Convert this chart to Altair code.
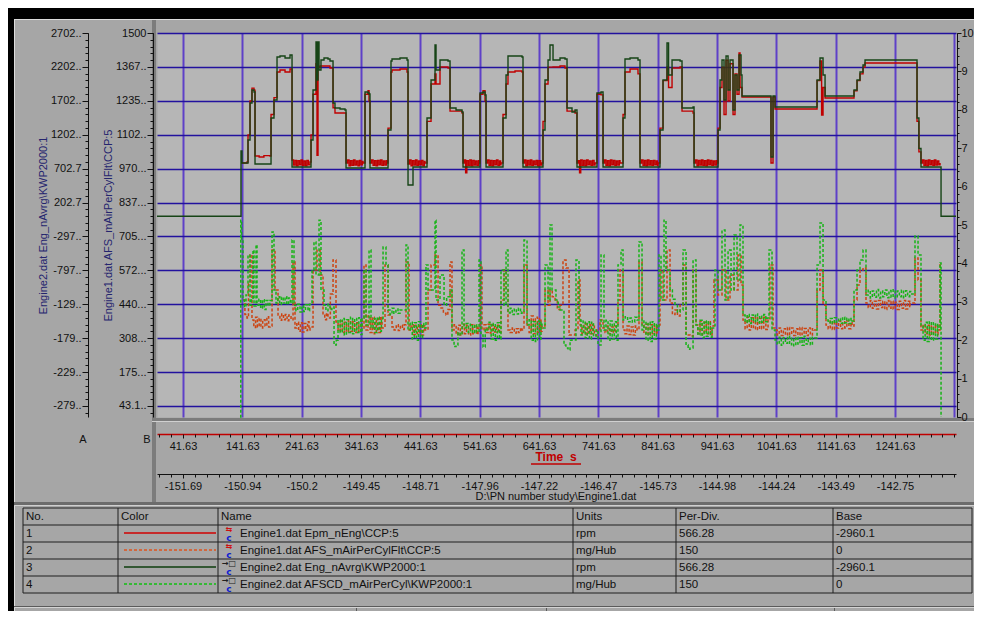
import json
import altair as alt
import pandas as pd

# ---------------- values ----------------
# Engine1.dat Epm_nEng\CCP:5  (rpm)  -- (time s, rpm)
e1_rpm = [
    (141.1, 785), (149.5, 800), (151.2, 1200), (154.6, 1700), (157.9, 1890), (161.3, 1860),
    (163.0, 889), (170, 875), (178, 895), (188.3, 889), (190.0, 1500), (195.0, 1750),
    (200.1, 2128), (205.1, 2157), (213.6, 2128), (222.0, 2172),
    (225.4, 830), (228.0, 755), (230.5, 825), (233.0, 745), (235.5, 820), (238.0, 760), (240.5, 830),
    (243.0, 750), (245.5, 815), (248.0, 745), (250.5, 825), (253.0, 760), (255.7, 800),
    (257.4, 1200), (260.8, 1800), (265.8, 2250), (267.5, 900), (269.2, 2201), (272.6, 2216),
    (286.0, 2216), (289.4, 2187), (294.5, 1600), (297.8, 1523), (314.7, 1523),
    (316.4, 785), (319.0, 830), (321.5, 745), (324.0, 820), (326.5, 750), (329.0, 830), (331.5, 755),
    (334.0, 815), (336.5, 745), (339.0, 825), (341.5, 760), (344.0, 810), (345.1, 785),
    (348.4, 1800), (353.5, 1850), (355.2, 1700),
    (356.8, 785), (359.5, 830), (362.0, 750), (364.5, 820), (367.0, 745), (369.5, 825), (372.0, 760),
    (374.5, 830), (377.0, 750), (379.5, 815), (382.0, 755), (384.5, 820), (385.5, 785),
    (387.2, 1300), (392.2, 2128), (393.9, 2157), (407.4, 2172), (419.2, 2128),
    (420.9, 771), (423.5, 830), (426.0, 745), (428.5, 820), (431.0, 755), (433.5, 830), (436.0, 750),
    (438.5, 815), (441.0, 760), (443.5, 825), (446.0, 745), (448.5, 810),
    (449.5, 785), (452.9, 1400), (459.7, 1950), (466.4, 2100), (468.1, 1950), (474.8, 2201),
    (488.3, 2187), (491.7, 1550), (511.9, 1523),
    (513.6, 785), (516.0, 830), (518.0, 640), (520.0, 820), (522.5, 750), (525.0, 830), (527.5, 745),
    (530.0, 825), (532.5, 755), (535.0, 815), (537.5, 750), (540.0, 820),
    (540.6, 785), (542.3, 1800), (547.3, 1850), (550.7, 1700),
    (552.4, 785), (555.0, 830), (557.5, 750), (560.0, 825), (562.5, 745), (565.0, 820), (567.5, 760),
    (570.0, 830), (572.5, 750), (575.0, 815), (577.0, 760),
    (577.6, 785), (581.0, 1500), (586.1, 1950), (589.4, 2128), (601.2, 2143), (613.0, 2128),
    (614.7, 785), (617.0, 830), (619.5, 745), (622.0, 825), (624.5, 755), (627.0, 830), (629.5, 750),
    (632.0, 815), (634.5, 760), (637.0, 825), (639.5, 745), (642.0, 820), (644.5, 755),
    (646.7, 785), (648.4, 1400), (651.8, 1950), (656.9, 2200), (665.3, 2201), (677.1, 2216),
    (685.5, 2187), (688.9, 1550), (702.4, 1523),
    (705.7, 785), (708.0, 820), (710.0, 640), (712.0, 830), (714.5, 750), (717.0, 825), (719.5, 745),
    (722.0, 830), (724.5, 760), (727.0, 815), (729.5, 750), (732.0, 825), (734.5, 755),
    (736.1, 785), (739.4, 1800), (746.2, 1790),
    (749.6, 785), (752.0, 830), (754.5, 750), (757.0, 820), (759.5, 745), (762.0, 830), (764.5, 760),
    (767.0, 825), (769.5, 750), (772.0, 815), (774.5, 755), (777.0, 820),
    (778.2, 785), (783.3, 1500), (786.6, 2128), (795.1, 2172), (808.5, 2100),
    (811.9, 785), (814.5, 830), (817.0, 750), (819.5, 825), (822.0, 745), (824.5, 830), (827.0, 755),
    (829.5, 820), (832.0, 750), (834.5, 825), (837.0, 760), (839.5, 815), (841.5, 750),
    (842.3, 785), (845.6, 1300), (850.7, 2000), (857.4, 2200), (860.0, 1900), (865.9, 2187),
    (879.4, 2201), (882.7, 1550), (901.3, 1523),
    (903.0, 785), (905.5, 830), (908.0, 745), (910.5, 825), (913.0, 755), (915.5, 830), (918.0, 750),
    (920.5, 820), (923.0, 745), (925.5, 830), (928.0, 760), (930.5, 825), (933.0, 750), (935.5, 815),
    (938.0, 755), (940.5, 820),
    (941.7, 785), (943.4, 1300), (946.8, 1900), (950.1, 2200), (953.5, 1500), (956.9, 2300),
    (960.3, 1700), (963.6, 2250), (968.7, 1500), (972.0, 2100), (975.4, 1800), (978.8, 2408),
    (980.5, 1900), (983.8, 1759), (1031.0, 1759), (1032.7, 785), (1036.1, 1759), (1039.5, 1582),
    (1106.9, 1582), (1110.3, 2000), (1115.3, 2290), (1118.0, 1494), (1120.4, 1900), (1123.8, 1745),
    (1169.3, 1745), (1172.6, 1850), (1177.7, 2000), (1182.7, 2100), (1187.8, 2200), (1191.2, 2260),
    (1275.4, 2260), (1278.8, 1400), (1282.0, 950),
    (1285.5, 785), (1288.0, 830), (1290.5, 750), (1293.0, 825), (1295.5, 745), (1298.0, 830),
    (1300.5, 760), (1303.0, 820), (1305.5, 750), (1308.0, 830), (1310.5, 755), (1313.0, 815),
    (1315.5, 760), (1317.6, 785),
]

# Engine2.dat Eng_nAvrg\KWP2000:1  (rpm)
e2_rpm = [
    (-2.2, 0), (137.7, 0), (139.4, 963), (141.1, 785), (149.5, 785), (151.2, 1125),
    (154.6, 1670), (157.9, 1862), (161.3, 1833), (163.0, 771), (188.3, 771), (190.0, 1449),
    (195.0, 1715), (200.1, 2349), (205.1, 2364), (213.6, 2334), (222.0, 2378), (225.4, 727),
    (255.7, 727), (257.4, 1125), (260.8, 1862), (265.8, 2570), (267.5, 2010), (269.2, 2570),
    (270.9, 2157), (274.2, 2305), (279.3, 2334), (286.0, 2319), (289.4, 2290), (294.5, 1670),
    (297.8, 1597), (306.3, 1582), (314.7, 1567), (316.4, 712), (345.1, 712), (348.4, 1833),
    (353.5, 1818), (355.2, 1803), (356.8, 712), (385.5, 712), (387.2, 1272), (392.2, 2290),
    (393.9, 2319), (407.4, 2334), (419.2, 2305), (420.9, 461), (429.3, 727), (449.5, 727),
    (452.9, 1449), (459.7, 2010), (466.4, 2526), (468.1, 2157), (474.8, 2305), (488.3, 2290),
    (491.7, 1597), (501.8, 1567), (511.9, 1538), (513.6, 727), (540.6, 727), (542.3, 1818),
    (547.3, 1833), (550.7, 1788), (552.4, 727), (577.6, 727), (581.0, 1449), (586.1, 2083),
    (589.4, 2364), (601.2, 2364), (613.0, 2349), (614.7, 727), (646.7, 727), (648.4, 1272),
    (651.8, 2010), (656.9, 2305), (660.2, 2526), (665.3, 2305), (677.1, 2334), (685.5, 2319),
    (688.9, 1597), (697.3, 1538), (702.4, 1567), (705.7, 727), (736.1, 727), (739.4, 1818),
    (746.2, 1833), (749.6, 727), (778.2, 727), (783.3, 1449), (786.6, 2319), (795.1, 2334),
    (808.5, 2305), (811.9, 727), (842.3, 727), (845.6, 1272), (850.7, 2010), (857.4, 2555),
    (860.0, 2083), (865.9, 2305), (879.4, 2290), (882.7, 1597), (901.3, 1611), (903.0, 727),
    (941.7, 727), (943.4, 1272), (946.8, 2010), (950.1, 2305), (953.5, 1715), (956.9, 2364),
    (960.3, 1862), (963.6, 2305), (968.7, 1567), (972.0, 2083), (975.4, 1862), (978.8, 2378),
    (982.2, 2083), (983.8, 1774), (1031.0, 1774), (1032.7, 874), (1036.1, 1774), (1039.5, 1611),
    (1106.9, 1611), (1110.3, 2010), (1115.3, 2334), (1120.4, 2083), (1123.8, 1774), (1169.3, 1774),
    (1172.6, 1862), (1177.7, 2010), (1182.7, 2128), (1187.8, 2231), (1191.2, 2305), (1241.7, 2305),
    (1275.4, 2305), (1278.8, 1449), (1282.0, 1000), (1285.5, 727), (1317.6, 727), (1319.3, 0),
    (1344.5, 0),
]

# Engine1.dat AFS_mAirPerCylFlt\CCP:5  (mg/Hub)
e1_air = [
    (142.8, 457), (146.0, 400), (149.5, 387), (152.0, 520), (154.6, 633), (157.9, 379),
    (161.0, 350), (164.0, 390), (167.0, 352), (170.0, 385), (173.0, 348), (176.0, 380),
    (179.9, 355), (183.0, 392), (186.0, 352), (188.3, 355), (191.7, 652), (196.7, 496),
    (201.8, 398), (205.0, 378), (208.0, 402), (211.0, 380), (214.0, 400), (217.0, 376),
    (220.0, 398), (223.7, 380), (227.1, 605), (230.4, 348), (233.5, 370), (236.5, 335),
    (239.5, 368), (242.5, 332), (245.5, 365), (248.5, 338), (251.5, 372), (254.0, 340),
    (255.7, 352), (260.8, 574), (267.5, 652), (272.6, 555), (277.6, 398), (280.5, 380),
    (283.5, 405), (286.0, 387), (290.0, 480), (294.5, 613), (299.5, 371), (303.0, 335),
    (306.5, 375), (310.0, 330), (313.5, 370), (317.0, 332), (320.5, 378), (324.0, 335),
    (327.5, 372), (331.0, 330), (334.5, 368), (338.0, 332), (341.5, 375), (343.4, 348),
    (346.7, 594), (350.1, 340), (353.5, 395), (357.0, 330), (360.5, 390), (364.0, 325),
    (367.5, 385), (371.0, 330), (374.5, 392), (377.1, 348), (382.1, 594), (387.2, 398),
    (393.9, 352), (397.5, 340), (401.0, 360), (404.5, 338), (408.0, 358), (411.5, 342),
    (414.5, 360), (417.5, 605), (422.6, 340), (426.0, 360), (429.5, 322), (433.0, 358),
    (436.5, 325), (440.0, 360), (443.5, 320), (447.0, 355), (449.5, 340), (454.6, 496),
    (459.7, 594), (466.4, 633), (471.5, 437), (476.5, 426), (480.5, 405), (484.9, 398),
    (488.0, 420), (491.7, 605), (495.0, 340), (498.5, 360), (502.0, 322), (505.5, 358),
    (509.0, 320), (512.5, 362), (516.0, 325), (519.5, 358), (523.0, 320), (526.5, 360),
    (530.0, 325), (533.5, 358), (537.0, 322), (538.9, 348), (542.3, 594), (545.6, 340),
    (549.0, 360), (552.5, 330), (556.0, 362), (559.5, 328), (563.0, 360), (566.5, 332),
    (570.0, 358), (573.5, 330), (577.6, 457), (582.7, 574), (586.1, 496), (589.4, 340),
    (593.0, 330), (596.5, 348), (600.0, 328), (603.5, 345), (607.0, 330), (610.5, 348),
    (613.0, 340), (616.4, 594), (621.5, 359), (625.0, 330), (628.5, 395), (632.0, 325),
    (635.5, 390), (639.0, 330), (642.5, 385), (645.0, 335), (646.7, 355), (651.8, 496),
    (656.9, 437), (660.2, 496), (664.0, 470), (668.7, 457), (672.5, 420), (677.1, 437),
    (682.1, 613), (687.2, 582), (692.3, 320), (697.3, 320), (702.4, 340), (707.4, 535),
    (710.8, 359), (714.0, 325), (717.5, 365), (721.0, 322), (724.5, 360), (728.0, 325),
    (731.5, 362), (735.0, 320), (739.4, 340), (744.5, 379), (749.6, 348), (753.0, 330),
    (756.5, 355), (760.0, 325), (763.5, 352), (767.0, 330), (770.5, 355), (774.8, 457),
    (778.2, 574), (783.3, 340), (786.5, 325), (790.0, 355), (793.5, 322), (797.0, 352),
    (800.5, 320), (804.0, 355), (806.9, 340), (810.2, 605), (815.3, 359), (818.5, 325),
    (822.0, 362), (825.5, 320), (829.0, 360), (832.5, 325), (836.0, 358), (839.5, 322),
    (840.6, 359), (845.6, 574), (850.7, 457), (857.4, 652), (862.5, 445), (866.5, 400),
    (870.9, 418), (875.0, 395), (879.4, 437), (884.4, 594), (889.5, 320), (896.2, 316),
    (901.3, 574), (906.3, 359), (909.5, 325), (913.0, 375), (916.5, 322), (920.0, 370),
    (923.5, 325), (927.0, 372), (930.5, 320), (933.3, 355), (936.6, 535), (943.4, 477),
    (950.1, 574), (956.9, 457), (963.6, 555), (970.4, 496), (977.1, 633), (982.2, 516),
    (985.5, 379), (989.0, 345), (992.5, 390), (996.0, 340), (999.5, 388), (1003.0, 345),
    (1006.5, 392), (1010.0, 342), (1013.5, 385), (1017.0, 345), (1020.5, 390), (1024.0, 342),
    (1027.7, 379), (1031.0, 594), (1036.1, 348), (1039.5, 340), (1043.0, 320), (1046.5, 348),
    (1050.0, 318), (1053.5, 345), (1057.0, 320), (1060.5, 350), (1064.0, 322), (1067.5, 348),
    (1071.0, 318), (1074.5, 345), (1078.0, 320), (1081.5, 350), (1085.0, 322), (1088.5, 346),
    (1092.0, 318), (1095.5, 348), (1099.0, 320), (1102.5, 345), (1105.2, 340), (1110.3, 496),
    (1115.3, 574), (1120.4, 437), (1125.4, 359), (1129.0, 345), (1132.5, 375), (1136.0, 342),
    (1139.5, 372), (1143.0, 348), (1146.5, 375), (1150.0, 345), (1153.5, 372), (1157.0, 348),
    (1160.5, 375), (1164.0, 345), (1167.5, 370), (1169.3, 355), (1172.6, 457), (1177.7, 516),
    (1182.7, 574), (1187.8, 582), (1192.8, 445), (1196.5, 428), (1200.0, 455), (1203.5, 425),
    (1207.0, 452), (1210.5, 422), (1214.0, 455), (1217.5, 428), (1221.0, 452), (1224.5, 420),
    (1228.0, 455), (1231.5, 425), (1235.0, 452), (1238.5, 422), (1242.0, 448), (1245.5, 420),
    (1249.0, 452), (1252.5, 425), (1256.0, 455), (1259.5, 422), (1263.0, 452), (1266.5, 428),
    (1267.0, 445), (1275.4, 621), (1280.5, 535), (1285.5, 340), (1289.0, 360), (1292.5, 325),
    (1296.0, 358), (1299.5, 320), (1303.0, 355), (1306.5, 325), (1310.0, 360), (1313.5, 322),
    (1314.2, 340), (1317.6, 602),
]

# Engine2.dat AFSCD_mAirPerCyl\KWP2000:1  (mg/Hub)
e2_air = [
    (137.7, 0), (139.0, 769), (140.3, 691), (142.8, 457), (145.0, 430), (147.8, 477),
    (151.2, 633), (154.6, 437), (157.0, 460), (159.6, 652), (161.3, 434), (164.7, 672),
    (166.4, 437), (169.5, 460), (172.5, 425), (175.5, 458), (178.5, 420), (181.5, 455),
    (184.9, 434), (188.0, 455), (191.7, 723), (195.0, 496), (198.4, 445), (201.5, 470),
    (204.5, 440), (207.5, 468), (210.5, 445), (213.6, 470), (216.5, 440), (219.5, 465),
    (222.5, 445), (225.4, 691), (228.7, 437), (232.0, 415), (235.0, 440), (238.9, 410),
    (242.0, 435), (245.0, 412), (248.0, 438), (252.3, 415), (255.0, 440), (259.1, 574),
    (262.4, 684), (265.8, 555), (270.9, 769), (274.2, 496), (279.3, 437), (282.5, 415),
    (286.0, 440), (289.4, 420), (292.5, 430), (296.2, 281), (300.0, 300), (302.9, 379),
    (306.5, 330), (310.0, 385), (313.5, 320), (317.0, 380), (320.5, 330), (324.0, 390),
    (327.5, 325), (331.0, 385), (334.5, 330), (338.0, 388), (341.5, 322), (343.4, 387),
    (346.7, 574), (350.1, 359), (355.2, 652), (358.5, 348), (362.0, 385), (365.5, 330),
    (369.0, 390), (372.5, 335), (376.0, 385), (378.8, 664), (383.8, 594), (387.2, 418),
    (390.5, 400), (393.9, 425), (397.0, 405), (400.5, 422), (404.0, 405), (407.4, 418),
    (417.5, 672), (420.9, 340), (424.5, 370), (428.0, 305), (431.5, 368), (435.0, 300),
    (438.5, 372), (442.0, 310), (445.5, 365), (447.5, 348), (451.2, 594), (454.6, 496),
    (466.4, 769), (468.1, 457), (474.8, 555), (481.6, 437), (486.0, 470), (491.7, 496),
    (495.0, 301), (498.5, 275), (501.8, 281), (505.0, 330), (508.5, 320), (511.9, 652),
    (515.3, 348), (519.0, 365), (522.5, 330), (526.0, 362), (529.5, 328), (533.0, 360),
    (536.5, 332), (540.6, 613), (543.9, 320), (547.3, 273), (551.0, 345), (554.0, 340),
    (557.5, 370), (561.0, 305), (564.5, 365), (568.0, 300), (571.5, 368), (575.0, 305),
    (577.6, 574), (582.7, 437), (586.1, 652), (589.4, 406), (593.0, 425), (596.5, 400),
    (600.0, 422), (603.5, 402), (607.0, 425), (610.5, 405), (613.0, 410), (616.4, 691),
    (621.5, 359), (625.0, 380), (628.5, 300), (632.0, 372), (635.5, 295), (639.0, 375),
    (642.5, 305), (645.0, 370), (646.7, 348), (651.8, 594), (656.9, 457), (660.2, 750),
    (663.6, 496), (670.3, 457), (674.0, 430), (677.1, 418), (683.8, 281), (687.0, 270),
    (690.6, 262), (694.0, 300), (697.3, 301), (704.0, 613), (709.1, 379), (712.5, 320),
    (716.0, 375), (719.5, 310), (723.0, 372), (726.5, 305), (730.0, 370), (733.5, 315),
    (737.8, 340), (741.1, 281), (746.2, 633), (751.2, 340), (754.5, 378), (758.0, 300),
    (761.5, 375), (765.0, 305), (768.5, 372), (772.0, 300), (774.8, 594), (779.9, 652),
    (783.3, 379), (787.0, 392), (791.0, 372), (795.1, 387), (799.0, 370), (803.0, 390),
    (806.9, 379), (810.2, 684), (815.3, 340), (818.5, 375), (822.0, 300), (825.5, 370),
    (829.0, 295), (832.5, 372), (836.0, 305), (839.5, 365), (840.6, 340), (843.9, 633),
    (847.3, 457), (852.4, 769), (855.7, 574), (862.5, 496), (866.5, 460), (870.9, 437),
    (875.0, 410), (879.4, 418), (884.4, 652), (889.5, 281), (893.0, 265), (896.2, 270),
    (901.3, 613), (906.3, 359), (909.5, 320), (913.0, 378), (916.5, 310), (920.0, 375),
    (923.5, 315), (927.0, 372), (930.5, 312), (933.3, 348), (938.3, 574), (943.4, 496),
    (950.1, 730), (955.2, 457), (960.3, 652), (965.3, 496), (970.4, 711), (975.4, 535),
    (980.5, 750), (985.5, 398), (989.0, 370), (992.5, 400), (996.0, 365), (999.5, 398),
    (1003.0, 372), (1006.5, 402), (1010.0, 368), (1013.5, 395), (1017.0, 370), (1020.5, 400),
    (1024.0, 372), (1026.5, 387), (1029.4, 652), (1034.4, 340), (1039.5, 301), (1043.0, 285),
    (1046.5, 312), (1050.0, 280), (1053.5, 310), (1057.0, 288), (1060.5, 315), (1064.0, 282),
    (1067.5, 308), (1071.0, 278), (1074.5, 312), (1078.0, 285), (1081.5, 310), (1085.0, 280),
    (1088.5, 315), (1092.0, 285), (1095.5, 308), (1099.0, 282), (1102.5, 312), (1105.2, 309),
    (1110.3, 594), (1115.3, 758), (1120.4, 457), (1125.4, 379), (1129.0, 368), (1132.5, 385),
    (1136.0, 365), (1139.5, 388), (1143.0, 370), (1146.5, 385), (1150.0, 366), (1153.5, 390),
    (1157.0, 368), (1160.5, 386), (1164.0, 365), (1167.5, 385), (1169.3, 375), (1172.6, 496),
    (1177.7, 574), (1182.7, 613), (1187.8, 652), (1192.8, 477), (1196.5, 495), (1200.0, 465),
    (1203.5, 492), (1207.0, 468), (1210.5, 498), (1214.0, 465), (1217.5, 492), (1221.0, 470),
    (1224.5, 496), (1228.0, 466), (1231.5, 494), (1235.0, 468), (1238.5, 497), (1242.0, 465),
    (1245.5, 492), (1249.0, 470), (1252.5, 495), (1256.0, 466), (1259.5, 493), (1263.0, 470),
    (1266.5, 490), (1270.0, 480), (1275.4, 707), (1280.5, 633), (1285.5, 359), (1289.0, 300),
    (1292.5, 370), (1296.0, 295), (1299.5, 372), (1303.0, 300), (1306.5, 368), (1310.0, 305),
    (1313.5, 365), (1314.2, 348), (1317.6, 602), (1319.3, 0),
]

# axes
time_domain = [-2.2, 1344.5]
time_ticks = [41.63, 141.63, 241.63, 341.63, 441.63, 541.63, 641.63,
              741.63, 841.63, 941.63, 1041.63, 1141.63, 1241.63]
time_labels = ["41.63", "141.63", "241.63", "341.63", "441.63", "541.63", "641.63",
               "741.63", "841.63", "941.63", "1041.63", "1141.63", "1241.63"]
second_labels = ["-151.69", "-150.94", "-150.2", "-149.45", "-148.71", "-147.96", "-147.22",
                 "-146.47", "-145.73", "-144.98", "-144.24", "-143.49", "-142.75"]
grid_times = time_ticks + [1341.63]
time_minor = [1.63 + 20 * k for k in range(68)]

rpm_base, rpm_per_div = -2960.1, 566.28
air_base, air_per_div = 0, 150
rpm_ticks = [2702.7, 2202.7, 1702.7, 1202.7, 702.7, 202.7, -297.3, -797.3,
             -1297.3, -1797.3, -2297.3, -2797.3]
rpm_labels = ["2702..", "2202..", "1702..", "1202..", "702.7", "202.7", "-297..", "-797..",
              "-129..", "-179..", "-229..", "-279.."]
air_ticks = [1500, 1367.55, 1235.1, 1102.65, 970.2, 837.75, 705.3, 572.85,
             440.4, 307.95, 175.5, 43.05]
air_labels = ["1500", "1367..", "1235..", "1102..", "970...", "837...", "705...", "572...",
              "440...", "308...", "175...", "43.1.."]
rpm_minor = [round(2702.7 - 100 * k, 1) for k in range(57)]
air_minor = [round(1500 - 26.49 * k, 2) for k in range(57)]
div_ticks = list(range(11))
div_minor = [round(0.2 * k, 1) for k in range(51)]

table_header = ["No.", "Color", "Name", "Units", "Per-Div.", "Base"]
table_no = ["1", "2", "3", "4"]
table_names = ["Engine1.dat Epm_nEng\\CCP:5", "Engine1.dat AFS_mAirPerCylFlt\\CCP:5",
               "Engine2.dat Eng_nAvrg\\KWP2000:1", "Engine2.dat AFSCD_mAirPerCyl\\KWP2000:1"]
table_units = ["rpm", "mg/Hub", "rpm", "mg/Hub"]
table_perdiv = ["566.28", "150", "566.28", "150"]
table_base = ["-2960.1", "0", "-2960.1", "0"]

# ---------------- styling / layout ----------------
FONT = "Liberation Sans"
RED = "#c00000"
DKGREEN = "#164416"
ORANGE = "#cc4412"
LTGREEN = "#18b418"
VGRID = "#5e40c8"
HGRID = "#22129e"
NAVY = "#24246e"
PANEL = "#a6a6a6"
PLOT_BG = "#b6b6b6"
INK = "#111111"
SAMPLE_COLORS = ["#d00000", "#e0541c", "#0c3c0c", "#10c010"]
SAMPLE_DASHED = [False, True, False, True]

VX0, VY0 = 157, 33          # page position of the plot area
W, H = 799, 384
PAD = {"left": VX0 - 8, "top": VY0 - 8, "right": 966 - (VX0 - 8) - W, "bottom": 603 - (VY0 - 8) - H}

XS = alt.Scale(domain=time_domain, nice=False, zero=False)
RPM_S = alt.Scale(domain=[rpm_base, rpm_base + 10 * rpm_per_div], nice=False, zero=False)
AIR_S = alt.Scale(domain=[air_base, air_base + 10 * air_per_div], nice=False, zero=False)
DIV_S = alt.Scale(domain=[0, 10], nice=False, zero=False)

ax = dict(labelFont=FONT, labelFontSize=11, labelColor=INK, tickColor=INK,
          domainColor=INK, zindex=1, grid=False, tickWidth=1, domainWidth=1)
ax_minor = {k: v for k, v in ax.items() if k not in ("domainColor", "domainWidth")}


def idx_expr(labels, origin, step):
    return "%s[round((datum.value - (%s)) / (%s))]" % (json.dumps(labels), origin, step)


def series_df(pairs):
    return pd.DataFrame(pairs, columns=["t", "v"])


dummy = pd.DataFrame({"t": [0.0], "v": [0.0]})

# grid
grid_layer = alt.Chart(dummy).mark_point(opacity=0).encode(
    x=alt.X("t:Q", scale=XS, axis=alt.Axis(orient="bottom", values=grid_times, grid=True,
                                           gridColor=VGRID, gridWidth=2, gridOpacity=1,
                                           labels=False, ticks=False, domain=False,
                                           title=None, zindex=0)),
    y=alt.Y("v:Q", scale=RPM_S, axis=alt.Axis(orient="left", values=rpm_ticks, grid=True,
                                              gridColor=HGRID, gridWidth=1.5, gridOpacity=1,
                                              labels=False, ticks=False, domain=False,
                                              title=None, zindex=0)),
)

# traces (drawn in channel order 1..4)
e1_rpm_layer = alt.Chart(series_df(e1_rpm)).mark_line(
    interpolate="step-after", color=RED, strokeWidth=1.4).encode(
    x=alt.X("t:Q", scale=XS, axis=alt.Axis(orient="bottom", offset=17, values=time_ticks,
                                           labelExpr=idx_expr(time_labels, 41.63, 100),
                                           tickSize=4, labelPadding=2, title=None,
                                           **{**ax, "domainColor": RED, "domainWidth": 1.5})),
    y=alt.Y("v:Q", scale=RPM_S, axis=alt.Axis(orient="left", offset=69, values=rpm_ticks,
                                              labelExpr=idx_expr(rpm_labels, 2702.7, -500),
                                              tickSize=6, labelPadding=1,
                                              title="Engine2.dat Eng_nAvrg\\KWP2000:1",
                                              titleFont=FONT, titleFontSize=11,
                                              titleFontWeight="normal", titleColor=NAVY,
                                              titlePadding=2, **ax)),
)

e1_air_layer = alt.Chart(series_df(e1_air)).mark_line(
    interpolate="step-after", color=ORANGE, strokeWidth=1.5, strokeDash=[3, 2]).encode(
    x=alt.X("t:Q", scale=XS, axis=alt.Axis(orient="bottom", offset=57, values=time_ticks,
                                           labelExpr=idx_expr(second_labels, 41.63, 100),
                                           tickSize=4, labelPadding=2, title=None, **ax)),
    y=alt.Y("v:Q", scale=AIR_S, axis=alt.Axis(orient="left", offset=4, values=air_ticks,
                                              labelExpr=idx_expr(air_labels, 1500, -132.45),
                                              tickSize=6, labelPadding=1,
                                              title="Engine1.dat AFS_mAirPerCylFlt\\CCP:5",
                                              titleFont=FONT, titleFontSize=11,
                                              titleFontWeight="normal", titleColor=NAVY,
                                              titlePadding=2, **ax)),
)

e2_rpm_layer = alt.Chart(series_df(e2_rpm)).mark_line(
    interpolate="step-after", color=DKGREEN, strokeWidth=1.4).encode(
    x=alt.X("t:Q", scale=XS, axis=None),
    y=alt.Y("v:Q", scale=RPM_S, axis=None),
)

e2_air_layer = alt.Chart(series_df(e2_air)).mark_line(
    interpolate="step-after", color=LTGREEN, strokeWidth=1.5, strokeDash=[3, 2]).encode(
    x=alt.X("t:Q", scale=XS, axis=None),
    y=alt.Y("v:Q", scale=AIR_S, axis=None),
)

# minor ticks and the right-hand division axis
minor_a = alt.Chart(dummy).mark_point(opacity=0).encode(
    x=alt.X("t:Q", scale=XS, axis=alt.Axis(orient="bottom", offset=17, values=time_minor,
                                           labels=False, domain=False, tickSize=3, title=None,
                                           **ax_minor)),
    y=alt.Y("v:Q", scale=RPM_S, axis=alt.Axis(orient="left", offset=69, values=rpm_minor,
                                              labels=False, domain=False, tickSize=3, title=None,
                                              **ax_minor)),
)
minor_b = alt.Chart(dummy).mark_point(opacity=0).encode(
    x=alt.X("t:Q", scale=XS, axis=alt.Axis(orient="bottom", offset=57, values=time_minor,
                                           labels=False, domain=False, tickSize=3, title=None,
                                           **ax_minor)),
    y=alt.Y("v:Q", scale=AIR_S, axis=alt.Axis(orient="left", offset=4, values=air_minor,
                                              labels=False, domain=False, tickSize=3, title=None,
                                              **ax_minor)),
)
right_major = alt.Chart(dummy).mark_point(opacity=0).encode(
    x=alt.X("t:Q", scale=XS, axis=None),
    y=alt.Y("v:Q", scale=DIV_S, axis=alt.Axis(orient="right", offset=1, values=div_ticks,
                                              format="d", tickSize=4, labelPadding=0,
                                              title=None, **ax)),
)
right_minor = alt.Chart(dummy).mark_point(opacity=0).encode(
    x=alt.X("t:Q", scale=XS, axis=None),
    y=alt.Y("v:Q", scale=DIV_S, axis=alt.Axis(orient="right", offset=1, values=div_minor,
                                              labels=False, domain=False, tickSize=2, title=None,
                                              **ax_minor)),
)


# ---------------- window frame, separators and channel table ----------------
def to_view(rows):
    out = []
    for r in rows:
        d = dict(r)
        for k in ("px", "px2"):
            if k in d:
                d[k] = d[k] - VX0
        for k in ("py", "py2"):
            if k in d:
                d[k] = d[k] - VY0
        out.append(d)
    return pd.DataFrame(out)


def ident_x():
    return alt.X("px:Q", scale=None, axis=None)


def ident_y():
    return alt.Y("py:Q", scale=None, axis=None)


frame_rects = to_view([
    dict(px=0, px2=1000, py=0, py2=19, clr="#000000"),
    dict(px=0, px2=14, py=0, py2=640, clr="#000000"),
    dict(px=14, px2=1000, py=19, py2=20, clr="#dcdcdc"),
    dict(px=14, px2=15, py=19, py2=640, clr="#dcdcdc"),
    dict(px=152, px2=156, py=20, py2=503, clr="#7c7c7c"),
    dict(px=152, px2=1000, py=418, py2=421, clr="#7c7c7c"),
    dict(px=152, px2=1000, py=421, py2=422, clr="#d0d0d0"),
    dict(px=14, px2=1000, py=502, py2=505, clr="#6c6c6c"),
    dict(px=14, px2=1000, py=505, py2=506, clr="#cfcfcf"),
    dict(px=14, px2=1000, py=606, py2=607, clr="#5a5a5a"),
    dict(px=14, px2=1000, py=607, py2=608, clr="#d4d4d4"),
    dict(px=356, px2=357, py=608, py2=640, clr="#5a5a5a"),
    dict(px=546, px2=547, py=608, py2=640, clr="#5a5a5a"),
    dict(px=834, px2=835, py=608, py2=640, clr="#5a5a5a"),
])
frame_layer = alt.Chart(frame_rects).mark_rect().encode(
    x=ident_x(), x2="px2:Q", y=ident_y(), y2="py2:Q",
    color=alt.Color("clr:N", scale=None),
)

col_edges = [23, 118, 218, 573, 676, 833, 972]
row_edges = [508, 525, 542, 559, 576, 593]
lines = [dict(px=col_edges[0], px2=col_edges[-1], py=y, py2=y) for y in row_edges]
lines += [dict(px=x, px2=x, py=row_edges[0], py2=row_edges[-1]) for x in col_edges]
table_lines = alt.Chart(to_view(lines)).mark_rule(color="#1e1e1e", strokeWidth=1).encode(
    x=ident_x(), x2="px2:Q", y=ident_y(), y2="py2:Q",
)

row_mid = [(row_edges[i] + row_edges[i + 1]) / 2 for i in range(5)]
texts = []
for j, h in enumerate(table_header):
    texts.append(dict(px=col_edges[j] + 3, py=row_mid[0], txt=h))
for i in range(4):
    y = row_mid[i + 1]
    texts.append(dict(px=col_edges[0] + 3, py=y, txt=table_no[i]))
    texts.append(dict(px=240, py=y, txt=table_names[i]))
    texts.append(dict(px=col_edges[3] + 3, py=y, txt=table_units[i]))
    texts.append(dict(px=col_edges[4] + 3, py=y, txt=table_perdiv[i]))
    texts.append(dict(px=col_edges[5] + 3, py=y, txt=table_base[i]))
table_text = alt.Chart(to_view(texts)).mark_text(
    align="left", baseline="middle", font=FONT, fontSize=11.5, color=INK).encode(
    x=ident_x(), y=ident_y(), text="txt:N",
)

# colour samples of the four channels (as short strokes in the Color column)
sample_layers = []
for i in range(4):
    ymid = row_edges[i + 1] + 8
    kw = dict(strokeWidth=1.6, stroke=SAMPLE_COLORS[i], color=SAMPLE_COLORS[i], opacity=1)
    if SAMPLE_DASHED[i]:
        kw["strokeDash"] = [3, 2]
    sample_layers.append(
        alt.Chart(to_view([dict(px=124, px2=216, py=ymid)])).mark_rule(**kw).encode(
            x=ident_x(), x2="px2:Q", y=ident_y()))

icon_top = []
icon_c = []
for i in range(4):
    y = row_mid[i + 1]
    if i < 2:
        icon_top.append(dict(px=229, py=y - 4, txt="\u21c6", clr="#d01010"))
    else:
        icon_top.append(dict(px=229, py=y - 4, txt="\u2192\u25a1", clr="#202020"))
    icon_c.append(dict(px=229, py=y + 4, txt="c", clr="#1020d0"))
icon_top_layer = alt.Chart(to_view(icon_top)).mark_text(
    align="center", baseline="middle", font="DejaVu Sans", fontWeight="bold", fontSize=8).encode(
    x=ident_x(), y=ident_y(), text="txt:N", color=alt.Color("clr:N", scale=None),
)
icon_c_layer = alt.Chart(to_view(icon_c)).mark_text(
    align="center", baseline="middle", font="DejaVu Sans", fontWeight="bold", fontSize=9).encode(
    x=ident_x(), y=ident_y(), text="txt:N", color=alt.Color("clr:N", scale=None),
)

captions = to_view([
    dict(px=83, py=440, txt="A", clr=INK),
    dict(px=147, py=440, txt="B", clr=INK),
    dict(px=556, py=497, txt="D:\\PN number study\\Engine1.dat", clr=INK),
])
caption_normal = alt.Chart(captions).mark_text(
    align="center", baseline="middle", font=FONT, fontSize=11).encode(
    x=ident_x(), y=ident_y(), text="txt:N", color=alt.Color("clr:N", scale=None),
)
caption_bold = alt.Chart(to_view([dict(px=556, py=457, txt="Time\u00a0\u00a0s")])).mark_text(
    align="center", baseline="middle", font=FONT, fontSize=12, fontWeight="bold", color=RED).encode(
    x=ident_x(), y=ident_y(), text="txt:N",
)
underline = alt.Chart(to_view([dict(px=531, px2=581, py=464)])).mark_rule(
    color=RED, strokeWidth=1.5).encode(
    x=ident_x(), x2="px2:Q", y=ident_y(),
)

chart = alt.layer(
    frame_layer,
    grid_layer,
    e1_rpm_layer, e1_air_layer, e2_rpm_layer, e2_air_layer,
    minor_a, minor_b, right_major, right_minor,
    table_lines, *sample_layers, table_text, icon_top_layer, icon_c_layer,
    caption_normal, caption_bold, underline,
).resolve_scale(y="independent").resolve_axis(x="independent", y="independent").properties(
    width=W, height=H,
    autosize=alt.AutoSizeParams(type="none"),
    padding=PAD,
    background=PANEL,
).configure_view(stroke="transparent", fill=PLOT_BG)

chart.save("out.html", embed_options={"renderer": "svg", "actions": False})
